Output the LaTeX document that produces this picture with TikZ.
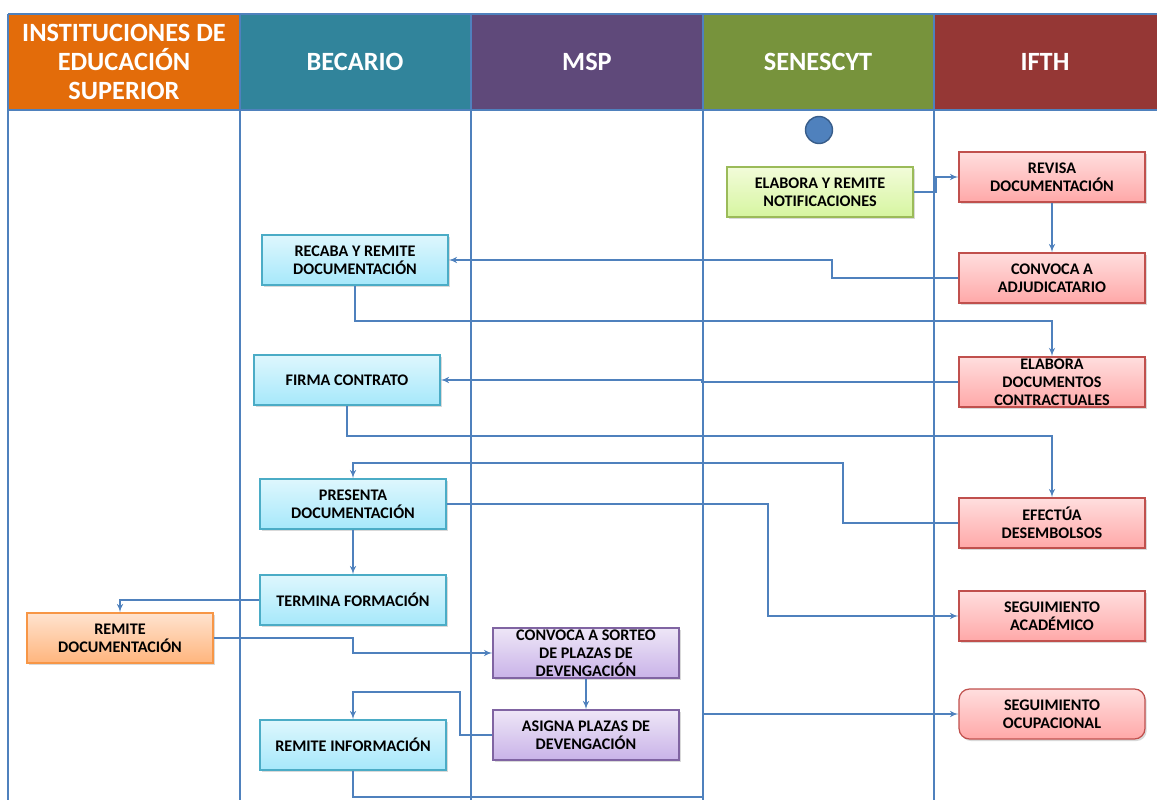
\documentclass[tikz,border=0pt]{standalone}
\usepackage{fontspec}
\setmainfont{Carlito}
\usepackage{tikz}
\usetikzlibrary{arrows}
\usetikzlibrary{shadows}
\usepackage{xcolor}

\definecolor{linea}{RGB}{79,129,189}
\definecolor{naranja}{RGB}{227,108,10}
\definecolor{azulverde}{RGB}{49,132,155}
\definecolor{morado}{RGB}{95,73,122}
\definecolor{verde}{RGB}{119,147,60}
\definecolor{rojo}{RGB}{149,55,53}

\tikzset{
  cabecera/.style={align=center, text=white, font=\fontsize{15}{16.4}\selectfont\bfseries},
  carril/.style={draw=linea, line width=0.9pt},
  caja/.style={rectangle, minimum width=3.72cm, minimum height=1cm, inner sep=1pt, align=center,
    font=\fontsize{9.2}{10.2}\selectfont\bfseries, text=black, line width=0.7pt,
    drop shadow={shadow xshift=1pt, shadow yshift=-1.2pt, opacity=0.3}},
  cajaazul/.style={caja, draw={rgb,255:red,75;green,172;blue,198}, top color={rgb,255:red,222;green,247;blue,253}, bottom color={rgb,255:red,166;green,232;blue,251}},
  cajaroja/.style={caja, draw={rgb,255:red,192;green,80;blue,77}, top color={rgb,255:red,255;green,222;blue,222}, bottom color={rgb,255:red,255;green,168;blue,168}},
  cajaverde/.style={caja, draw={rgb,255:red,155;green,187;blue,89}, top color={rgb,255:red,242;green,252;blue,217}, bottom color={rgb,255:red,214;green,245;blue,160}},
  cajanaranja/.style={caja, draw={rgb,255:red,247;green,150;blue,70}, top color={rgb,255:red,255;green,227;blue,207}, bottom color={rgb,255:red,255;green,181;blue,125}},
  cajamorada/.style={caja, draw={rgb,255:red,128;green,100;blue,162}, top color={rgb,255:red,238;green,230;blue,247}, bottom color={rgb,255:red,201;green,179;blue,232}},
  flecha/.style={draw=linea, line width=0.7pt, ->, >=latex'}
}

\begin{document}
\begin{tikzpicture}[x=0.02cm, y=-0.02cm]
    \useasboundingbox (0,0) rectangle (1157,800);
    % Cabeceras
    \fill[naranja] (8,14) rectangle (240,110);
    \fill[azulverde] (240,14) rectangle (471,110);
    \fill[morado] (471,14) rectangle (703,110);
    \fill[verde] (703,14) rectangle (934,110);
    \fill[rojo] (934,14) rectangle (1157,110);
    \node[cabecera] (ies) at (124,62) {INSTITUCIONES DE\\EDUCACIÓN\\SUPERIOR};
    \node[cabecera] (becario) at (355,62) {BECARIO};
    \node[cabecera] (msp) at (587,62) {MSP};
    \node[cabecera] (senescyt) at (818,62) {SENESCYT};
    \node[cabecera] (ifth) at (1045,62) {IFTH};
    % Carriles
    \draw[carril] (8,14) -- (1157,14);
    \draw[carril] (8,110) -- (1157,110);
    \foreach \x in {8,240,471,703,934}
        \draw[carril] (\x,14) -- (\x,800);
    % Inicio
    \node[circle, draw={rgb,255:red,56;green,93;blue,138}, fill=linea, line width=0.8pt, minimum size=0.54cm, inner sep=0pt] (inicio) at (819,130) {};
    % SENESCYT e IFTH
    \node[cajaverde] (notificaciones) at (820,192) {ELABORA Y REMITE\\NOTIFICACIONES};
    \node[cajaroja] (revisa) at (1052,177) {REVISA\\DOCUMENTACIÓN};
    \node[cajaroja] (convoca) at (1052,278) {CONVOCA A\\ADJUDICATARIO};
    \node[cajaroja] (contratos) at (1052,382) {ELABORA\\DOCUMENTOS\\CONTRACTUALES};
    \node[cajaroja] (desembolsos) at (1052,523) {EFECTÚA\\DESEMBOLSOS};
    \node[cajaroja] (academico) at (1052,616) {SEGUIMIENTO\\ACADÉMICO};
    \node[cajaroja, rounded corners=6pt] (ocupacional) at (1052,714) {SEGUIMIENTO\\OCUPACIONAL};
    % Becario
    \node[cajaazul] (recaba) at (355,260) {RECABA Y REMITE\\DOCUMENTACIÓN};
    \node[cajaazul] (firma) at (347,380) {FIRMA CONTRATO};
    \node[cajaazul] (presenta) at (353,504) {PRESENTA\\DOCUMENTACIÓN};
    \node[cajaazul] (termina) at (353,600) {TERMINA FORMACIÓN};
    \node[cajaazul] (informacion) at (353,745) {REMITE INFORMACIÓN};
    % IES y MSP
    \node[cajanaranja] (remite) at (120,638) {REMITE\\DOCUMENTACIÓN};
    \node[cajamorada] (sorteo) at (586,653) {CONVOCA A SORTEO\\DE PLAZAS DE\\DEVENGACIÓN};
    \node[cajamorada] (asigna) at (586,735) {ASIGNA PLAZAS DE\\DEVENGACIÓN};
    % Flujo
    \draw[flecha] (notificaciones.east) -- (936,192) |- (revisa.west);
    \draw[flecha] (revisa.south) -- (convoca.north);
    \draw[flecha] (convoca.west) -- (832,278) |- (recaba.east);
    \draw[flecha] (recaba.south) -- (355,321) -| (contratos.north);
    \draw[flecha] (contratos.west) -- (702,382) |- (firma.east);
    \draw[flecha] (firma.south) -- (347,436) -| (desembolsos.north);
    \draw[flecha] (desembolsos.west) -| (843,463) -| (presenta.north);
    \draw[flecha] (presenta.east) -- (768,504) |- (academico.west);
    \draw[flecha] (presenta.south) -- (termina.north);
    \draw[flecha] (termina.west) -| (remite.north);
    \draw[flecha] (remite.east) -- (353,638) |- (sorteo.west);
    \draw[flecha] (sorteo.south) -- (asigna.north);
    \draw[flecha] (asigna.west) -| (460,692) -| (informacion.north);
    \draw[flecha] (informacion.south) -- (353,797) -- (703,797) |- (ocupacional.west);
\end{tikzpicture}
\end{document}
